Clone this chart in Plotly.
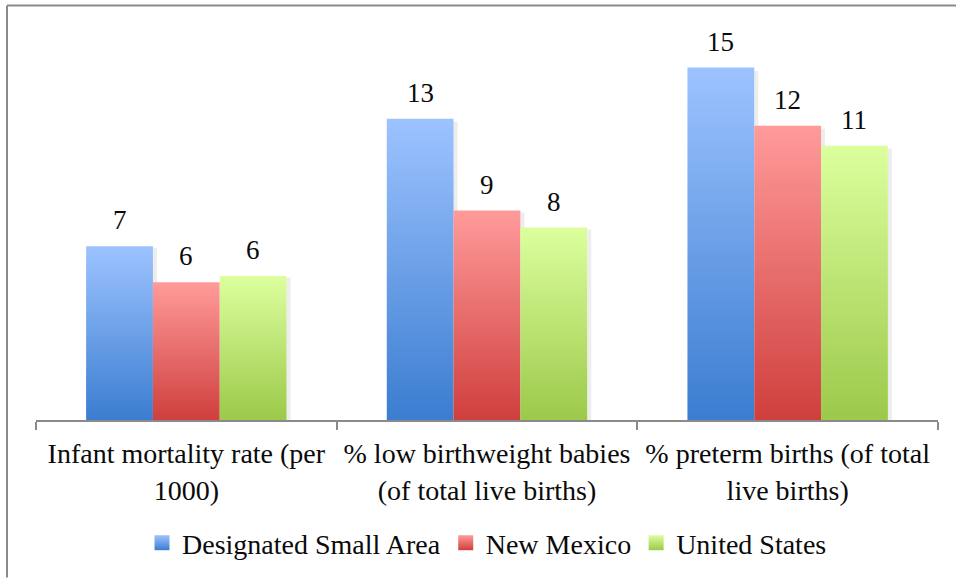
import plotly.graph_objects as go

# Data
categories = [
    "Infant mortality rate (per<br>1000)",
    "% low birthweight babies<br>(of total live births)",
    "% preterm births (of total<br>live births)",
]
series_names = ["Designated Small Area", "New Mexico", "United States"]
small_area = [7.26, 12.58, 14.72]
new_mexico = [5.75, 8.75, 12.29]
united_states = [6.01, 8.04, 11.46]
series_values = [small_area, new_mexico, united_states]

# Gradient colours (bottom, top) for each series
series_colors = [
    ("#3b7dd0", "#9dc3ff"),
    ("#cf3f3d", "#ff9b9a"),
    ("#9cc94a", "#dcff9e"),
]

FONT = "Liberation Serif"
bar_w = 2 / 9  # each bar's share of a category slot

W, H = 956, 579
M_L, M_R, M_T, M_B = 36, 18, 20, 158
PX_PER_UNIT = 24.0
plot_w = W - M_L - M_R
plot_h = H - M_T - M_B
y_max = plot_h / PX_PER_UNIT
shadow_w = 4 / (plot_w / 3)  # soft drop shadow, in x-axis units

fig = go.Figure()

annotations = []
for s, (name, vals) in enumerate(zip(series_names, series_values)):
    dark, light = series_colors[s]
    for g, v in enumerate(vals):
        c = g + (s - 1) * bar_w
        x0, x1 = c - bar_w / 2, c + bar_w / 2
        # faint shadow along the right edge
        fig.add_trace(go.Scatter(
            x=[x1, x1, x1 + shadow_w, x1 + shadow_w, x1],
            y=[0, v * 0.99, v * 0.99, 0, 0],
            mode="lines", line=dict(width=0), fill="toself",
            fillcolor="rgba(0,0,0,0.07)", hoverinfo="skip", showlegend=False,
        ))
        fig.add_trace(go.Scatter(
            x=[x0, x0, x1, x1, x0],
            y=[0, v, v, 0, 0],
            mode="lines",
            line=dict(width=0),
            fill="toself",
            fillgradient=dict(type="vertical", colorscale=[[0, dark], [1, light]],
                              start=0, stop=v),
            hoverinfo="skip",
            showlegend=False,
            legendgroup=name,
        ))
        annotations.append(dict(
            x=c, y=v, xref="x", yref="y", text=f"{v:.0f}", showarrow=False,
            yanchor="bottom", yshift=9,
            font=dict(family=FONT, size=27, color="#0a0a0a"),
        ))

# Legend swatches
for s, name in enumerate(series_names):
    dark, light = series_colors[s]
    fig.add_trace(go.Scatter(
        x=[None], y=[None], mode="markers", name=name, legendgroup=name,
        marker=dict(symbol="square", size=15, color=light,
                    gradient=dict(type="vertical", color=dark)),
    ))

# Frame lines along the top and left edge of the figure
px_x = lambda p: (p - M_L) / plot_w
px_y = lambda p: (H - M_B - p) / plot_h
shapes = [
    dict(type="line", xref="paper", yref="paper", x0=px_x(7), x1=px_x(W), y0=px_y(5.5), y1=px_y(5.5),
         line=dict(color="#8a8a8a", width=2)),
    dict(type="line", xref="paper", yref="paper", x0=px_x(7), x1=px_x(7), y0=px_y(5.5), y1=px_y(H),
         line=dict(color="#8a8a8a", width=2)),
]

fig.update_layout(
    width=W, height=H,
    margin=dict(l=M_L, r=M_R, t=M_T, b=M_B),
    paper_bgcolor="white", plot_bgcolor="white",
    font=dict(family=FONT, size=28, color="#0a0a0a"),
    showlegend=True,
    legend=dict(orientation="h", x=0.5, xanchor="center", y=-(543 - (H - M_B)) / plot_h,
                yanchor="middle",
                font=dict(family=FONT, size=28, color="#0a0a0a"), itemwidth=30,
                tracegroupgap=0),
    xaxis=dict(
        range=[-0.5, 2.5], tickvals=[0, 1, 2], ticktext=categories,
        tickfont=dict(family=FONT, size=28, color="#0a0a0a"),
        showline=True, linecolor="#8a8a8a", linewidth=1.5, ticks="",
        showgrid=False, zeroline=False, ticklabelstandoff=8,
        minor=dict(tickvals=[-0.5, 0.5, 1.5, 2.5], ticks="outside", ticklen=8,
                   tickcolor="#8a8a8a", tickwidth=1.5, showgrid=False),
        fixedrange=True,
    ),
    yaxis=dict(range=[0, y_max], visible=False, fixedrange=True),
    annotations=annotations,
    shapes=shapes,
)

fig.write_html("out.html")
